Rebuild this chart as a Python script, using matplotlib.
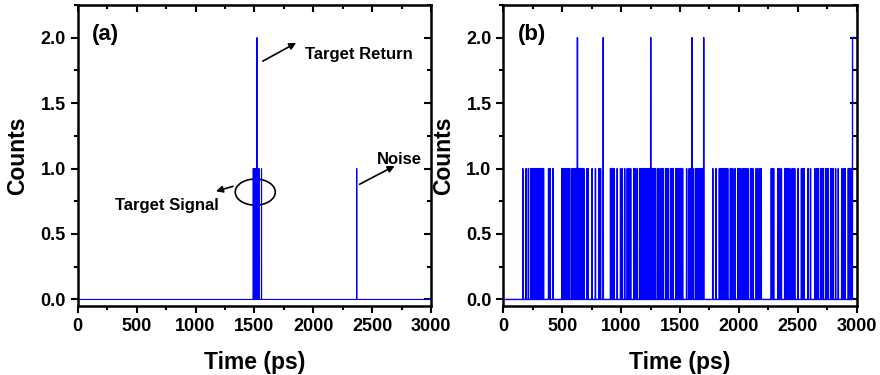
import matplotlib.pyplot as plt
import numpy as np
from matplotlib.patches import Ellipse
from matplotlib.ticker import MultipleLocator

plt.rcParams['font.family'] = ['Liberation Sans', 'DejaVu Sans']
plt.rcParams['font.weight'] = 'bold'

# time axis in ps (1 ps bins)
t_max = 3000

# (a) photon events: time (ps), counts
a_times = [1490, 1497, 1505, 1512, 1521, 1530, 1538, 1560, 2368]
a_counts = [1, 1, 1, 1, 2, 1, 1, 1, 1]

# (b) photon events at count 1
b_times = [165, 193, 213, 233, 240, 248, 256, 265, 272, 279, 287, 299,
           306, 312, 319, 327, 334, 341, 384, 398, 421,
           498, 508, 518, 530, 540, 552, 563, 583, 597, 611, 618, 625, 636,
           641, 648, 655, 661, 668, 675, 683, 711, 720, 754, 782,
           811, 825, 910, 917, 924, 931, 939, 967, 995, 1010, 1030, 1052,
           1066, 1081, 1109, 1122, 1138, 1158, 1166, 1175, 1184, 1194,
           1202, 1214, 1222, 1231, 1240, 1260, 1271, 1280, 1290, 1308,
           1320, 1337, 1348, 1359, 1379, 1390, 1402, 1422, 1432, 1442,
           1465, 1472, 1478, 1485, 1492, 1502, 1510, 1515, 1522, 1556, 1578,
           1593, 1615, 1635, 1642, 1648, 1655, 1662, 1672, 1680, 1686,
           1692, 1778, 1806, 1834, 1848, 1863, 1873,
           1883, 1894, 1905, 1928, 1938, 1948, 1968, 1991, 2001, 2011, 2028,
           2038, 2048, 2060, 2076, 2099, 2110, 2119, 2147, 2160, 2176, 2190,
           2275, 2285, 2295, 2332, 2345, 2361, 2389, 2400,
           2409, 2420, 2432, 2452, 2463, 2474, 2503, 2531, 2542, 2554, 2588,
           2608, 2645, 2660, 2673, 2693, 2705, 2716, 2736, 2748, 2759, 2779,
           2790, 2801, 2821, 2844, 2873, 2888,
           2901, 2929, 2936, 2944, 2952, 2958]
# (b) events at count 2
b_times2 = [629, 848, 1251, 1601, 1701]
b_tail_start = 2965  # count stays at 2 up to the end


def histogram(times, counts):
    y = np.zeros(t_max + 1)
    for tt, c in zip(times, counts):
        y[tt] = c
    return y


t = np.arange(t_max + 1)
ya = histogram(a_times, a_counts)
yb = histogram(b_times + b_times2, [1] * len(b_times) + [2] * len(b_times2))
yb[b_tail_start:] = 2

fig = plt.figure(figsize=(8.8, 3.75), dpi=100)
ax1 = fig.add_axes([0.0883, 0.184, 0.4017, 0.803])
ax2 = fig.add_axes([0.572, 0.184, 0.4015, 0.803])

for ax, y, tag, lw in [(ax1, ya, '(a)', 0.8), (ax2, yb, '(b)', 1.0)]:
    ax.plot(t, y, color='#0000ff', lw=lw)
    ax.set_xlim(0, 3000)
    ax.set_ylim(-0.05, 2.25)
    ax.xaxis.set_major_locator(MultipleLocator(500))
    ax.xaxis.set_minor_locator(MultipleLocator(250))
    ax.yaxis.set_major_locator(MultipleLocator(0.5))
    ax.yaxis.set_minor_locator(MultipleLocator(0.25))
    ax.yaxis.set_major_formatter(plt.FormatStrFormatter('%.1f'))
    ax.tick_params(which='both', direction='out', width=1.5, labelsize=13)
    ax.tick_params(which='major', length=5)
    ax.tick_params(which='minor', length=3)
    for s in ax.spines.values():
        s.set_linewidth(1.8)
    top = ax.secondary_xaxis('top')
    top.xaxis.set_major_locator(MultipleLocator(500))
    top.xaxis.set_minor_locator(MultipleLocator(250))
    right = ax.secondary_yaxis('right')
    right.yaxis.set_major_locator(MultipleLocator(0.5))
    right.yaxis.set_minor_locator(MultipleLocator(0.25))
    for sec in (top, right):
        sec.tick_params(which='both', direction='in', width=1.5,
                        labelleft=False, labelright=False,
                        labeltop=False, labelbottom=False)
        sec.tick_params(which='major', length=5)
        sec.tick_params(which='minor', length=3)
    ax.set_xlabel('Time (ps)', fontsize=16.5, fontweight='bold', labelpad=12)
    ax.set_ylabel('Counts', fontsize=16.5, fontweight='bold', labelpad=8)
    ax.text(0.04, 0.90, tag, transform=ax.transAxes, fontsize=16,
            fontweight='bold', va='center', ha='left')

# annotations in (a)
arrow = dict(arrowstyle='-|>', color='black', lw=1.2, mutation_scale=10)
ax1.annotate('', xy=(1875, 1.97), xytext=(1550, 1.81), arrowprops=arrow)
ax1.text(1930, 1.87, 'Target Return', fontsize=12, fontweight='bold',
         va='center', ha='left')
ax1.annotate('', xy=(2711, 1.03), xytext=(2371, 0.87), arrowprops=arrow)
ax1.text(2540, 1.07, 'Noise', fontsize=12, fontweight='bold',
         va='center', ha='left')
ax1.add_patch(Ellipse((1507, 0.82), 340, 0.20, fill=False, color='black',
                      lw=1.2))
ax1.annotate('', xy=(1150, 0.82), xytext=(1340, 0.87), arrowprops=arrow)
ax1.text(320, 0.716, 'Target Signal', fontsize=12, fontweight='bold',
         va='center', ha='left')

fig.savefig('out.png', dpi=100)
